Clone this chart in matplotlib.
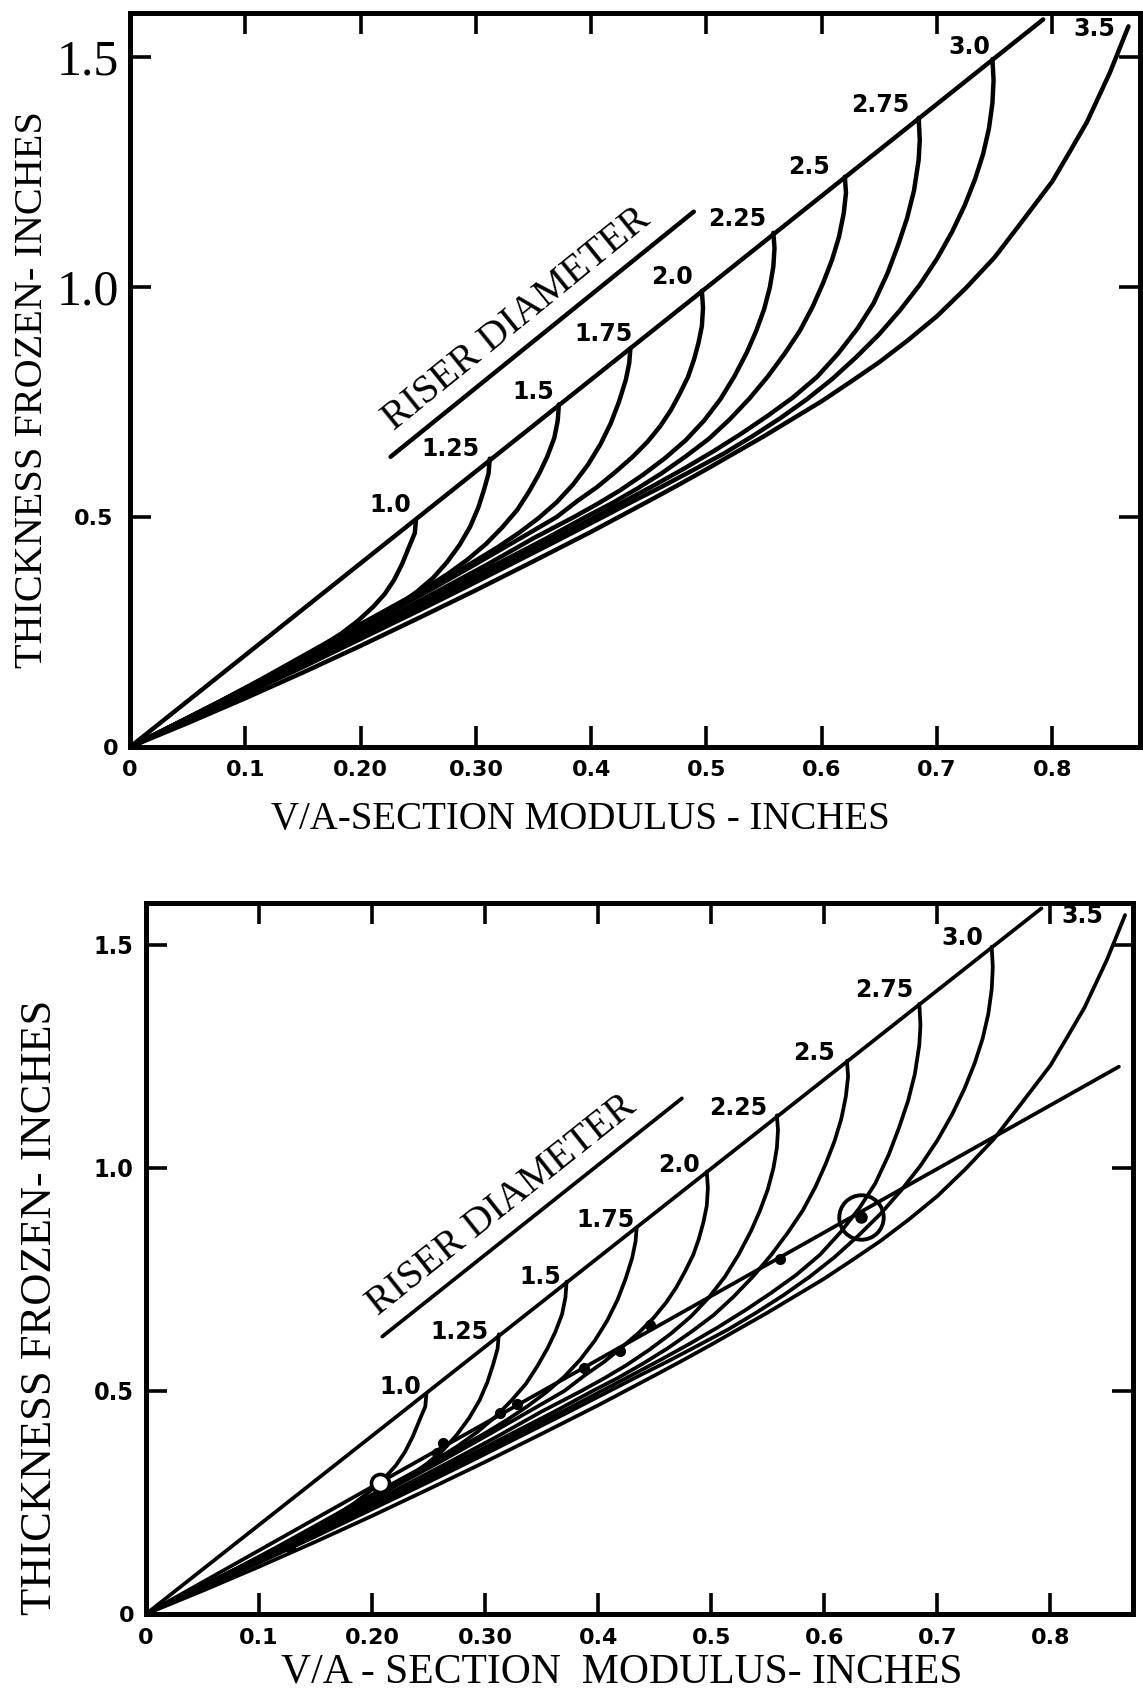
import matplotlib
matplotlib.use("Agg")
import matplotlib.pyplot as plt

W, H = 1143, 1697

# x / y ticks of both panels
x_ticks = [0, 0.1, 0.2, 0.3, 0.4, 0.5, 0.6, 0.7, 0.8]
x_labels = ['0', '0.1', '0.20', '0.30', '0.4', '0.5', '0.6', '0.7', '0.8']
y_ticks = [0, 0.5, 1.0, 1.5]
y_labels = ['0', '0.5', '1.0', '1.5']

# upper (riser top) line
upper_line = [(0, 0), (0.792, 1.582)]

# riser curves: top point first, ending at the origin
c10 = [(0.248, 0.493), (0.247, 0.465), (0.242, 0.435), (0.236, 0.398), (0.229, 0.363),
       (0.221, 0.333), (0.211, 0.305), (0.198, 0.275), (0.184, 0.248), (0.168, 0.222),
       (0.150, 0.195), (0.125, 0.160), (0.095, 0.121), (0.060, 0.076), (0.030, 0.038), (0, 0)]
c125 = [(0.312, 0.627), (0.311, 0.595), (0.307, 0.559), (0.302, 0.520), (0.295, 0.479),
        (0.286, 0.440), (0.275, 0.402), (0.263, 0.368), (0.249, 0.338), (0.232, 0.307),
        (0.212, 0.278), (0.190, 0.248), (0.160, 0.208), (0.125, 0.160), (0.085, 0.108),
        (0.045, 0.057), (0, 0)]
c15 = [(0.372, 0.745), (0.371, 0.710), (0.368, 0.672), (0.362, 0.632), (0.355, 0.595),
       (0.346, 0.555), (0.336, 0.516), (0.323, 0.478), (0.309, 0.442), (0.293, 0.408),
       (0.276, 0.377), (0.256, 0.345), (0.234, 0.314), (0.210, 0.281), (0.182, 0.243),
       (0.150, 0.198), (0.115, 0.149), (0.075, 0.095), (0.038, 0.048), (0, 0)]
c175 = [(0.434, 0.867), (0.433, 0.835), (0.430, 0.798), (0.424, 0.750), (0.417, 0.704),
        (0.408, 0.658), (0.397, 0.613), (0.384, 0.570), (0.370, 0.532), (0.354, 0.497),
        (0.337, 0.465), (0.318, 0.433), (0.297, 0.401), (0.275, 0.370), (0.252, 0.338),
        (0.228, 0.305), (0.200, 0.264), (0.170, 0.222), (0.135, 0.173), (0.100, 0.127),
        (0.050, 0.062), (0, 0)]
c20 = [(0.496, 0.992), (0.497, 0.955), (0.496, 0.915), (0.493, 0.878), (0.489, 0.841),
       (0.484, 0.805), (0.477, 0.769), (0.469, 0.732), (0.460, 0.698), (0.449, 0.664),
       (0.436, 0.631), (0.421, 0.598), (0.405, 0.565), (0.388, 0.535), (0.370, 0.500),
       (0.340, 0.456), (0.300, 0.398), (0.260, 0.341), (0.220, 0.286), (0.180, 0.231),
       (0.140, 0.178), (0.100, 0.126), (0.050, 0.062), (0, 0)]
c225 = [(0.558, 1.118), (0.559, 1.085), (0.558, 1.045), (0.555, 1.000), (0.550, 0.952),
        (0.543, 0.904), (0.535, 0.858), (0.524, 0.805), (0.512, 0.756), (0.498, 0.710),
        (0.482, 0.667), (0.464, 0.628), (0.445, 0.592), (0.425, 0.558), (0.405, 0.528),
        (0.385, 0.500), (0.350, 0.454), (0.310, 0.397), (0.270, 0.343), (0.230, 0.290),
        (0.190, 0.237), (0.150, 0.186), (0.100, 0.123), (0.050, 0.061), (0, 0)]
c25 = [(0.620, 1.240), (0.621, 1.205), (0.619, 1.160), (0.615, 1.110), (0.609, 1.060),
       (0.601, 1.008), (0.592, 0.957), (0.581, 0.905), (0.568, 0.856), (0.553, 0.805),
       (0.537, 0.757), (0.520, 0.712), (0.502, 0.670), (0.482, 0.632), (0.461, 0.595),
       (0.440, 0.562), (0.418, 0.530), (0.395, 0.500), (0.360, 0.452), (0.320, 0.400),
       (0.280, 0.348), (0.240, 0.295), (0.200, 0.245), (0.150, 0.182), (0.100, 0.120),
       (0.050, 0.060), (0, 0)]
c275 = [(0.684, 1.368), (0.685, 1.320), (0.684, 1.276), (0.680, 1.210), (0.674, 1.150),
        (0.666, 1.090), (0.657, 1.030), (0.645, 0.965), (0.631, 0.910), (0.614, 0.855),
        (0.596, 0.805), (0.575, 0.760), (0.553, 0.720), (0.530, 0.681), (0.506, 0.643),
        (0.481, 0.606), (0.456, 0.571), (0.430, 0.536), (0.403, 0.500), (0.370, 0.456),
        (0.330, 0.405), (0.290, 0.353), (0.250, 0.302), (0.200, 0.240), (0.150, 0.178),
        (0.100, 0.118), (0.050, 0.058), (0, 0)]
c30 = [(0.748, 1.496), (0.749, 1.450), (0.748, 1.400), (0.745, 1.345), (0.740, 1.290),
       (0.733, 1.235), (0.724, 1.178), (0.713, 1.120), (0.700, 1.062), (0.685, 1.005),
       (0.668, 0.950), (0.650, 0.898), (0.630, 0.848), (0.609, 0.800), (0.587, 0.756),
       (0.564, 0.715), (0.540, 0.676), (0.515, 0.638), (0.489, 0.603), (0.462, 0.567),
       (0.436, 0.534), (0.410, 0.500), (0.370, 0.448), (0.330, 0.397), (0.290, 0.346),
       (0.250, 0.296), (0.200, 0.235), (0.150, 0.174), (0.100, 0.115), (0.050, 0.057), (0, 0)]
c35 = [(0.866, 1.567), (0.858, 1.517), (0.850, 1.467), (0.840, 1.413), (0.830, 1.359),
       (0.815, 1.294), (0.800, 1.230), (0.775, 1.147), (0.750, 1.065), (0.725, 0.998),
       (0.700, 0.937), (0.675, 0.885), (0.650, 0.837), (0.625, 0.794), (0.600, 0.752),
       (0.575, 0.714), (0.550, 0.676), (0.525, 0.640), (0.500, 0.604), (0.475, 0.569),
       (0.450, 0.535), (0.400, 0.468), (0.350, 0.404), (0.300, 0.341), (0.250, 0.280),
       (0.200, 0.220), (0.150, 0.162), (0.100, 0.106), (0.050, 0.052), (0, 0)]
riser_curves = [c10, c125, c15, c175, c20, c225, c25, c275, c30, c35]

# diameter labels (text, x, y) for each panel
top_labels = [('1.0', 0.226, 0.526), ('1.25', 0.278, 0.649), ('1.5', 0.350, 0.772),
              ('1.75', 0.411, 0.898), ('2.0', 0.470, 1.022), ('2.25', 0.527, 1.149),
              ('2.5', 0.589, 1.261), ('2.75', 0.651, 1.396), ('3.0', 0.728, 1.522),
              ('3.5', 0.836, 1.562)]
bot_labels = [('1.0', 0.225, 0.510), ('1.25', 0.277, 0.633), ('1.5', 0.349, 0.756),
              ('1.75', 0.406, 0.883), ('2.0', 0.471, 1.007), ('2.25', 0.524, 1.134),
              ('2.5', 0.591, 1.257), ('2.75', 0.653, 1.399), ('3.0', 0.722, 1.515),
              ('3.5', 0.828, 1.564)]

# short "RISER DIAMETER" guide lines
top_guide = [(0.226, 0.631), (0.489, 1.164)]
bot_guide = [(0.209, 0.622), (0.474, 1.156)]

# lower panel extras: straight line, circled points and test dots
test_line = [(0, 0), (0.8605, 1.227)]
big_circle = (0.632, 0.891)
small_circle = (0.207, 0.293)
dots_x = [0.127, 0.257, 0.263, 0.313, 0.328, 0.387, 0.419, 0.446, 0.561]
dots_y = [0.150, 0.362, 0.383, 0.450, 0.470, 0.551, 0.590, 0.648, 0.795]

SERIF = 'Liberation Serif'
SANS = 'DejaVu Sans'


def xy(pts):
    return [p[0] for p in pts], [p[1] for p in pts]


def draw_panel(ax, labels, guide, xmax, ymax, lw, top_panel):
    ax.plot(*xy(upper_line), color='black', lw=lw, solid_capstyle='round')
    for c in riser_curves:
        ax.plot(*xy(c), color='black', lw=lw, solid_joinstyle='round',
                solid_capstyle='round')
    ax.plot(*xy(guide), color='black', lw=lw, solid_capstyle='round')
    for t, x, y in labels:
        ax.text(x, y, t, ha='center', va='center', fontsize=17,
                fontweight='bold', family=SANS)
    ax.set_xlim(0, xmax)
    ax.set_ylim(0, ymax)
    ax.set_xticks(x_ticks)
    ax.set_xticklabels(x_labels)
    ax.set_yticks(y_ticks)
    ax.set_yticklabels(y_labels)
    ax.tick_params(direction='in', top=True, right=True, length=15, width=2.6,
                   pad=8)
    ax.tick_params(axis='x', pad=9 if top_panel else 10)
    for s in ax.spines.values():
        s.set_linewidth(3.6)
    for lbl in ax.get_xticklabels():
        lbl.set_fontfamily(SANS)
        lbl.set_fontweight('bold')
        lbl.set_fontsize(16)
    for tick, lbl in zip(ax.yaxis.get_major_ticks(), ax.get_yticklabels()):
        txt = lbl.get_text()
        lbl.set_fontfamily(SANS)
        lbl.set_fontweight('bold')
        lbl.set_fontsize(16)
        if top_panel and txt in ('1.0', '1.5'):
            # the upper panel's top two labels are set in a large serif face
            lbl.set_fontfamily(SERIF)
            lbl.set_fontweight('normal')
            lbl.set_fontsize(36)
            tick.set_pad(8)
        elif top_panel and txt == '0.5':
            tick.set_pad(12)
        elif not top_panel and txt != '0':
            lbl.set_fontstretch('condensed')
            lbl.set_fontsize(18)
            tick.set_pad(9)


fig = plt.figure(figsize=(W / 100, H / 100), dpi=100)

# top panel
ax1 = fig.add_axes([130 / W, 1 - 747 / H, (1140 - 130) / W, (747 - 13) / H])
draw_panel(ax1, top_labels, top_guide, 0.876, 1.596, 3.2, True)
ax1.text(0.336, 0.930, 'RISER DIAMETER', rotation=39, ha='center', va='center',
         family=SERIF, fontsize=29)
fig.text(580 / W, 1 - 819 / H, 'V/A-SECTION MODULUS - INCHES', ha='center',
         va='center', family=SERIF, fontsize=28)
fig.text(33 / W, 1 - 390 / H, 'THICKNESS FROZEN- INCHES', rotation=90,
         ha='center', va='center', family=SERIF, fontsize=29)

# bottom panel
ax2 = fig.add_axes([146 / W, 1 - 1614 / H, (1133 - 146) / W, (1614 - 903) / H])
draw_panel(ax2, bot_labels, bot_guide, 0.873, 1.594, 2.7, False)
ax2.plot(*xy(test_line), color='black', lw=2.7, solid_capstyle='round')
ax2.plot(dots_x, dots_y, 'o', color='black', ms=7)
ax2.plot([big_circle[0]], [big_circle[1]], 'o', ms=32, mfc='none', mec='black',
         mew=2.8)
ax2.plot([big_circle[0]], [big_circle[1]], 'o', ms=8, color='black')
ax2.plot([small_circle[0]], [small_circle[1]], 'o', ms=13, mfc='white',
         mec='black', mew=2.6)
ax2.text(0.315, 0.917, 'RISER DIAMETER', rotation=38.5, ha='center', va='center',
         family=SERIF, fontsize=29)
fig.text(622 / W, 1 - 1672 / H, 'V/A - SECTION  MODULUS- INCHES', ha='center',
         va='center', family=SERIF, fontsize=30)
fig.text(40 / W, 1 - 1307 / H, 'THICKNESS FROZEN- INCHES', rotation=90,
         ha='center', va='center', family=SERIF, fontsize=32)

fig.savefig('out.png', dpi=100)
